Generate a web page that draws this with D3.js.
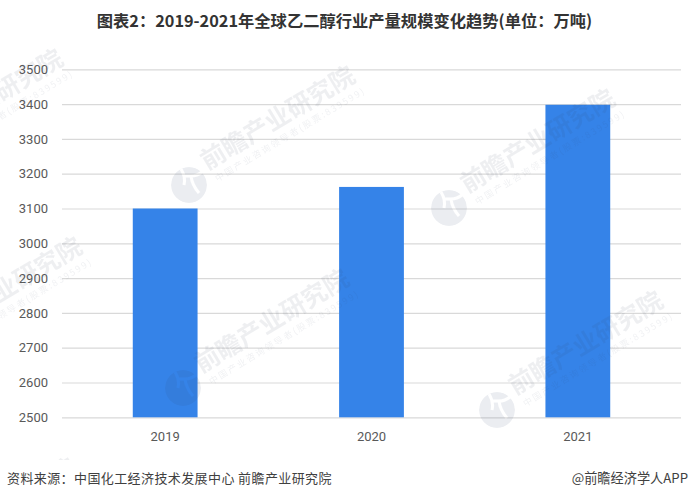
<!DOCTYPE html>
<html>
<head>
<meta charset="utf-8">
<script src="https://cdnjs.cloudflare.com/ajax/libs/d3/7.8.5/d3.min.js"></script>
<style>
  html, body { margin: 0; padding: 0; background: #fff; }
  svg { display: block; }
</style>
</head>
<body>
<svg id="chart" width="689" height="499"></svg>
<script>
const years = ["2019", "2020", "2021"];
const output = [3100, 3162, 3398];
const yTicks = [2500, 2600, 2700, 2800, 2900, 3000, 3100, 3200, 3300, 3400, 3500];

const titleText = "图表2：2019-2021年全球乙二醇行业产量规模变化趋势(单位：万吨)";
const sourceText = "资料来源：中国化工经济技术发展中心 前瞻产业研究院";
const creditText = "@前瞻经济学人APP";
const wmName = "前瞻产业研究院";
const wmSub = "中国产业咨询领导者(股票:839599)";

const width = 689;
const height = 499;
const margin = { top: 69.3, right: 8, bottom: 81.7, left: 62 };
const cjk = "'Noto Sans CJK SC', 'Noto Sans', sans-serif";

const svg = d3.select("#chart");

const x = d3
  .scaleBand()
  .domain(years)
  .range([margin.left, width - margin.right])
  .paddingInner(0.686)
  .paddingOuter(0.343);

const y = d3
  .scaleLinear()
  .domain([2500, 3500])
  .range([height - margin.bottom, margin.top]);

// gridlines
const yAxis = svg
  .append("g")
  .attr("transform", `translate(${margin.left},0)`)
  .call(d3.axisLeft(y).tickValues(yTicks).tickFormat(d3.format("d")).tickSize(-(width - margin.left - margin.right)).tickPadding(14));
yAxis.select(".domain").remove();
yAxis.selectAll(".tick line").attr("stroke", "#d9d9d9").attr("stroke-width", 1.2);
yAxis.selectAll("text").attr("fill", "#595959").style("font-family", "Roboto, sans-serif").style("font-size", "13px");

svg
  .append("g")
  .selectAll("rect")
  .data(years)
  .join("rect")
  .attr("x", (d) => x(d))
  .attr("y", (d, i) => y(output[i]))
  .attr("width", x.bandwidth())
  .attr("height", (d, i) => y(2500) - y(output[i]))
  .attr("fill", "#3583e8");

const xAxis = svg
  .append("g")
  .attr("transform", `translate(0,${height - margin.bottom})`)
  .call(d3.axisBottom(x).tickSize(0).tickPadding(14));
xAxis.select(".domain").remove();
xAxis.selectAll("text").attr("fill", "#595959").style("font-family", "Roboto, sans-serif").style("font-size", "13px");

// watermarks: logo centre, text runs up and to the right
const marks = [
  [189, 185],
  [449, 208],
  [183, 388],
  [497, 410],
  [-103, 168],
  [-84, 356],
  [-90, 577]
];
const defs = svg.append("defs");
defs
  .append("clipPath")
  .attr("id", "wm-clip")
  .append("rect")
  .attr("width", width)
  .attr("height", 460);
// logo is a disc with the notch cut out, so it stays see-through over the bars
const logoMask = defs
  .append("mask")
  .attr("id", "logo-mask")
  .attr("maskUnits", "userSpaceOnUse")
  .attr("x", -20)
  .attr("y", -20)
  .attr("width", 40)
  .attr("height", 40);
logoMask.append("circle").attr("r", 18).attr("fill", "#fff");
logoMask
  .append("path")
  .attr("d", "M-8,-16Q-3,-8 -5,0M-6,-9L2,-9Q8,-9 13,-13M2,-9Q3,0 10,8")
  .attr("fill", "none")
  .attr("stroke", "#000")
  .attr("stroke-width", 3);

const wm = svg.append("g").attr("clip-path", "url(#wm-clip)").attr("pointer-events", "none");
marks.forEach(([cx, cy]) => {
  const g = wm.append("g").attr("transform", `translate(${cx},${cy})`);
  g.append("circle")
    .attr("r", 18)
    .attr("fill", "#33466f")
    .attr("opacity", 0.09)
    .attr("mask", "url(#logo-mask)");
  const t = g.append("g").attr("transform", "rotate(-31)");
  t.append("text")
    .attr("x", 23)
    .attr("y", -3)
    .attr("fill", "#33405f")
    .attr("opacity", 0.08)
    .style("font-family", cjk)
    .style("font-weight", 700)
    .style("font-size", "25px")
    .text(wmName);
  t.append("text")
    .attr("x", 26)
    .attr("y", 12)
    .attr("fill", "#33405f")
    .attr("opacity", 0.07)
    .attr("textLength", 172)
    .attr("lengthAdjust", "spacing")
    .style("font-family", cjk)
    .style("font-size", "9px")
    .text(wmSub);
});

svg
  .append("text")
  .attr("x", 344.5)
  .attr("y", 27)
  .attr("text-anchor", "middle")
  .attr("fill", "#333")
  .style("font-family", cjk)
  .style("font-weight", 700)
  .style("font-size", "16.3px")
  .text(titleText);

svg
  .append("text")
  .attr("x", 7)
  .attr("y", 483)
  .attr("fill", "#404040")
  .style("font-family", cjk)
  .style("font-size", "13px")
  .style("letter-spacing", "0.4px")
  .text(sourceText);

svg
  .append("text")
  .attr("x", 688)
  .attr("y", 483)
  .attr("text-anchor", "end")
  .attr("fill", "#404040")
  .style("font-family", cjk)
  .style("font-size", "13.2px")
  .text(creditText);
</script>
</body>
</html>
